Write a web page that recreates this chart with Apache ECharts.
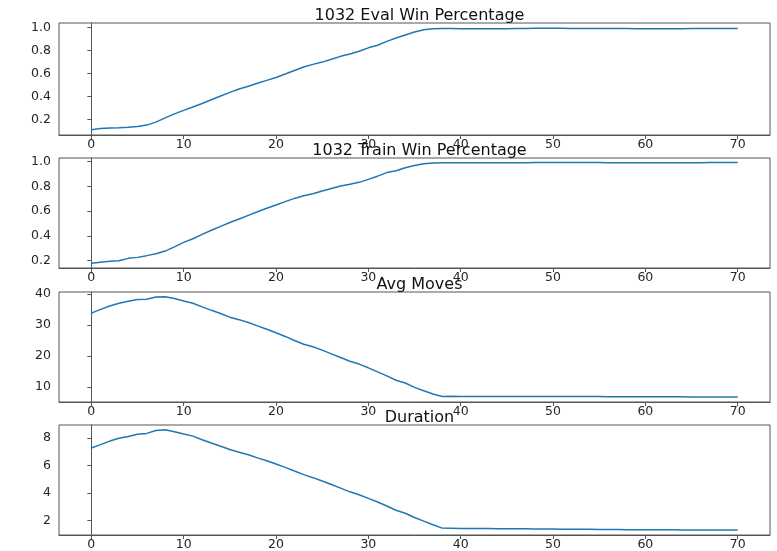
<!DOCTYPE html>
<html>
<head>
<meta charset="utf-8">
<script src="https://cdn.jsdelivr.net/npm/echarts@6/dist/echarts.min.js"></script>
<style>
  html, body { margin: 0; padding: 0; background: #fff; }
  #chart { width: 777px; height: 551px; }
</style>
</head>
<body>
<div id="chart"></div>
<script>
// values, one per epoch (0..70)
const evalWin = [
    0.112, 0.122, 0.126, 0.129, 0.133, 0.139, 0.152, 0.178, 0.215, 0.250,
    0.280, 0.310, 0.340, 0.372, 0.405, 0.437, 0.466, 0.490, 0.516, 0.541,
    0.566, 0.596, 0.627, 0.657, 0.680, 0.700, 0.725, 0.750, 0.771, 0.795,
    0.824, 0.847, 0.880, 0.909, 0.935, 0.961, 0.982, 0.991, 0.993, 0.992,
    0.991, 0.990, 0.990, 0.990, 0.990, 0.991, 0.992, 0.993, 0.994, 0.995,
    0.994, 0.994, 0.993, 0.993, 0.993, 0.993, 0.993, 0.993, 0.992, 0.991,
    0.989, 0.989, 0.990, 0.991, 0.991, 0.992, 0.992, 0.992, 0.992, 0.992,
    0.992
]
const trainWin = [
    0.178, 0.187, 0.194, 0.198, 0.218, 0.226, 0.240, 0.256, 0.277, 0.311,
    0.347, 0.377, 0.412, 0.445, 0.477, 0.508, 0.536, 0.566, 0.595, 0.623,
    0.650, 0.677, 0.703, 0.724, 0.741, 0.763, 0.784, 0.803, 0.817, 0.833,
    0.857, 0.883, 0.912, 0.927, 0.951, 0.970, 0.983, 0.990, 0.992, 0.992,
    0.992, 0.992, 0.992, 0.992, 0.992, 0.992, 0.992, 0.992, 0.993, 0.993,
    0.993, 0.993, 0.993, 0.993, 0.993, 0.993, 0.992, 0.992, 0.992, 0.992,
    0.991, 0.991, 0.991, 0.991, 0.991, 0.992, 0.992, 0.993, 0.993, 0.993,
    0.993
]
const avgMoves = [
    33.8, 35.0, 36.1, 37.0, 37.6, 38.2, 38.3, 39.0, 39.1, 38.5,
    37.7, 37.0, 35.8, 34.7, 33.7, 32.5, 31.7, 30.8, 29.7, 28.6,
    27.5, 26.3, 25.0, 23.8, 23.0, 21.9, 20.7, 19.5, 18.3, 17.4,
    16.2, 14.9, 13.6, 12.2, 11.3, 9.9, 8.8, 7.8, 7.0, 7.02,
    7.01, 7.01, 7.00, 7.00, 7.01, 7.00, 6.99, 6.99, 6.98, 6.97,
    6.97, 6.96, 6.96, 6.94, 6.94, 6.93, 6.92, 6.92, 6.90, 6.89,
    6.88, 6.88, 6.86, 6.85, 6.85, 6.84, 6.83, 6.82, 6.82, 6.81,
    6.80
]
const duration = [
    7.28, 7.52, 7.78, 7.98, 8.12, 8.27, 8.34, 8.55, 8.60, 8.46,
    8.29, 8.14, 7.88, 7.64, 7.40, 7.17, 6.97, 6.78, 6.56, 6.35,
    6.11, 5.87, 5.60, 5.34, 5.12, 4.88, 4.62, 4.36, 4.09, 3.88,
    3.61, 3.35, 3.06, 2.75, 2.53, 2.22, 1.96, 1.70, 1.45, 1.44,
    1.43, 1.43, 1.42, 1.42, 1.41, 1.41, 1.40, 1.40, 1.39, 1.38,
    1.38, 1.37, 1.37, 1.36, 1.36, 1.35, 1.35, 1.35, 1.34, 1.34,
    1.34, 1.33, 1.33, 1.33, 1.32, 1.32, 1.32, 1.32, 1.31, 1.31,
    1.31
]
const epochs = evalWin.map((v, i) => i)

const titles = ['1032 Eval Win Percentage', '1032 Train Win Percentage', 'Avg Moves', 'Duration']
const xTicks = [0, 10, 20, 30, 40, 50, 60, 70]
const yTicks = [
    [0.2, 0.4, 0.6, 0.8, 1.0],
    [0.2, 0.4, 0.6, 0.8, 1.0],
    [10, 20, 30, 40],
    [2, 4, 6, 8]
]
const yRanges = [[0.066, 1.04], [0.14, 1.03], [5.2, 40.6], [0.95, 8.95]]
const yDigits = [1, 1, 0, 0]
const allSeries = [evalWin, trainWin, avgMoves, duration]

const gridTops = [23, 158, 292, 425]
const gridH = [112, 110, 110, 110]
const font = 'DejaVu Sans'
const ink = '#262626'

const chart = echarts.init(document.getElementById('chart'))

chart.setOption({
    animation: false,
    backgroundColor: '#fff',
    title: titles.map((txt, i) => ({
        text: txt, left: 414.5, textAlign: 'center', top: gridTops[i] - 20,
        textStyle: { fontFamily: font, fontSize: 16, fontWeight: 'normal', color: '#111' }
    })),
    grid: gridTops.map((t, i) => ({
        left: 59, right: 7, top: t, height: gridH[i],
        show: true, borderColor: '#555', borderWidth: 1, backgroundColor: '#fff'
    })),
    xAxis: gridTops.map((t, i) => ({
        type: 'value', gridIndex: i, min: -3.5, max: 73.5,
        splitLine: { show: false },
        axisLine: { lineStyle: { color: '#555' } },
        axisTick: { customValues: xTicks, length: 4, lineStyle: { color: '#555' } },
        axisLabel: { customValues: xTicks, color: ink, fontFamily: font, fontSize: 12.5, margin: 3 }
    })),
    yAxis: gridTops.map((t, i) => ({
        type: 'value', gridIndex: i, min: yRanges[i][0], max: yRanges[i][1],
        splitLine: { show: false },
        axisLine: { show: true, lineStyle: { color: '#555' } },
        axisTick: { customValues: yTicks[i], length: 4, lineStyle: { color: '#555' } },
        axisLabel: {
            customValues: yTicks[i], color: ink, fontFamily: font, fontSize: 12.5, margin: 8,
            formatter: v => v.toFixed(yDigits[i])
        }
    })),
    series: allSeries.map((s, i) => ({
        type: 'line', xAxisIndex: i, yAxisIndex: i,
        showSymbol: false, z: 1,
        lineStyle: { color: '#1f77b4', width: 1.5 },
        data: s.map((v, k) => [epochs[k], v])
    }))
})
</script>
</body>
</html>
